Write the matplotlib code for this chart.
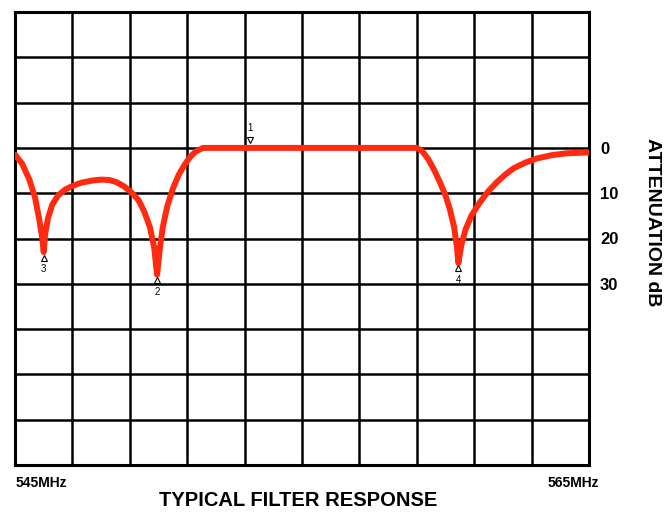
import matplotlib
matplotlib.use("Agg")
import matplotlib.pyplot as plt

# response (frequency MHz, attenuation dB)
freq = [545.0, 545.25, 545.5, 545.7, 545.85, 545.95, 546.0, 546.05, 546.15, 546.3,
        546.5, 546.75, 547.0, 547.3, 547.7, 548.0, 548.3, 548.55, 548.8, 549.05,
        549.3, 549.5, 549.7, 549.85, 549.95, 550.05, 550.15, 550.3, 550.5, 550.7,
        550.9, 551.1, 551.3, 551.55, 559.0, 559.2, 559.4, 559.6, 559.8, 560.0,
        560.15, 560.3, 560.4, 560.45, 560.55, 560.7, 560.9, 561.2, 561.5, 561.8,
        562.1, 562.4, 562.8, 563.2, 563.7, 564.2, 565.0]
atten = [1.5, 3.5, 7, 11, 16, 20, 23, 19, 15.5, 12.5,
         10.5, 9.2, 8.4, 7.7, 7.2, 7.0, 7.1, 7.6, 8.5, 9.8,
         11.5, 14, 17.5, 22, 28, 22, 17.5, 13, 9, 6,
         3.8, 2.0, 0.8, 0, 0, 0.8, 2.5, 4.8, 7.5, 10.5,
         13.5, 17.5, 22, 25.4, 21.5, 18, 15, 12, 9.5, 7.5,
         5.8, 4.4, 3.2, 2.3, 1.6, 1.2, 1.0]

# marker positions
mark_f = [553.2, 549.95, 546.0, 560.45]
mark_db = [0, 28, 23, 25.4]
mark_lbl = ["1", "2", "3", "4"]

ytick_vals = [-30, -20, -10, 0, 10, 20, 30, 40, 50, 60, 70]
ytick_lbl = ["", "", "", "0", "10", "20", "30", "", "", "", ""]

plt.rcParams['font.family'] = ['Liberation Sans', 'DejaVu Sans']
fig = plt.figure(figsize=(6.64, 5.12), dpi=100)
ax = fig.add_axes([15/664, 47/512, 574/664, 453/512])

ax.set_xlim(545, 565)
ax.set_ylim(70, -30)
ax.set_xticks(range(545, 566, 2))
ax.set_yticks(ytick_vals)
ax.set_yticklabels(ytick_lbl, fontsize=12, fontweight='bold')
ax.yaxis.tick_right()
ax.tick_params(axis='y', length=0, pad=8)
ax.tick_params(axis='x', length=0, labelbottom=False)
ax.grid(True, color='black', lw=1.8)
for s in ax.spines.values():
    s.set_linewidth(2.2)

ax.plot(freq, atten, color='#ff2a10', lw=4.3, solid_capstyle='round',
        solid_joinstyle='round', zorder=3)

# markers
for f, d, t in zip(mark_f, mark_db, mark_lbl):
    if t == "1":
        ax.plot(f, d - 1.8, marker='v', ms=4, mfc='white', mec='black', mew=0.8, zorder=4)
        ax.text(f, d - 4.5, t, ha='center', va='center', fontsize=7)
    else:
        ax.plot(f, d + 1.2, marker='^', ms=4, mfc='white', mec='black', mew=0.8, zorder=4)
        ax.text(f, d + 3.8, t, ha='center', va='center', fontsize=7)

fig.text(652/664, 1 - 222/512, "ATTENUATION dB", rotation=-90, ha='center', va='center',
         fontsize=14, fontweight='bold')
fig.text(16/664, 1 - 483/512, "545MHz", ha='left', va='center', fontsize=10, fontweight='bold')
fig.text(599/664, 1 - 483/512, "565MHz", ha='right', va='center', fontsize=10, fontweight='bold')
fig.text(298/664, 1 - 500/512, "TYPICAL FILTER RESPONSE", ha='center', va='center',
         fontsize=14.5, fontweight='bold')

fig.savefig("out.png", dpi=100)
